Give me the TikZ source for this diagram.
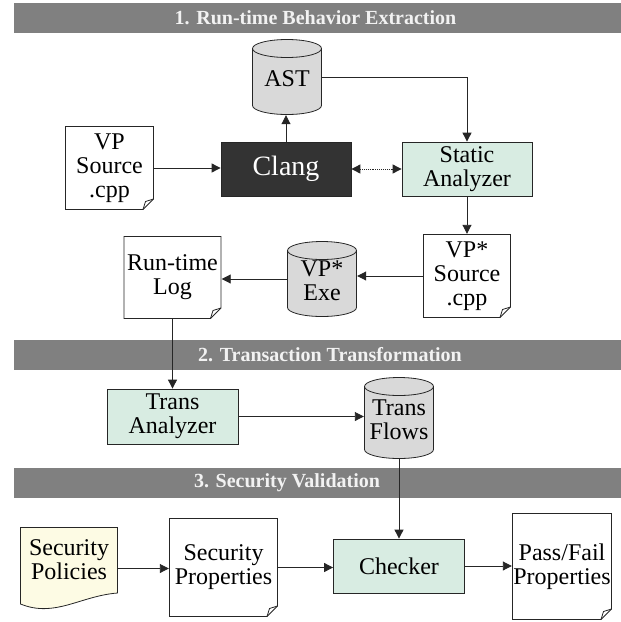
\documentclass[tikz,border=0pt]{standalone}
\usepackage{fontspec}
\setmainfont{Liberation Serif}
\usepackage{tikz}
\usetikzlibrary{arrows.meta}
\definecolor{bannergray}{HTML}{808080}
\definecolor{bannertext}{HTML}{F2F2F2}
\definecolor{procgreen}{HTML}{D8ECE2}
\definecolor{clangdark}{HTML}{333333}
\definecolor{dbgray}{HTML}{D9D9D9}
\definecolor{policyyellow}{HTML}{FDFBE4}
\definecolor{linegray}{HTML}{262626}
\newcommand{\nodefont}{\fontsize{24}{24}\selectfont}
\newcommand{\shiftlabel}[2][-5pt]{\raisebox{#1}[\height][\depth]{%
  \begin{tabular}{@{}c@{}}#2\end{tabular}}}
\tikzset{flowline/.style = {draw=linegray, line width=0.9pt,
                            -{Triangle[length=9pt,width=9pt]}},
         outline/.style = {draw=linegray, line width=0.8pt},
         banner/.style = {fill=bannergray, minimum width=607pt,
                          minimum height=30pt, inner sep=0pt},
         bannerlabel/.style = {text=bannertext, inner sep=0pt,
                               font=\bfseries\fontsize{20}{20}\selectfont},
         proc/.style = {outline, fill=procgreen, minimum width=130pt,
                        minimum height=54pt, align=center, font=\nodefont,
                        inner sep=1pt},
         docnote/.style = {rectangle, align=center, font=\nodefont, inner sep=1pt,
           path picture={
             \draw [outline, fill=white]
               ([shift={(.5pt,-.5pt)}]path picture bounding box.north west)
               -- ([shift={(-.5pt,-.5pt)}]path picture bounding box.north east)
               -- ([shift={(-.5pt,11pt)}]path picture bounding box.south east)
               -- ([shift={(-11pt,.5pt)}]path picture bounding box.south east)
               -- ([shift={(.5pt,.5pt)}]path picture bounding box.south west) -- cycle;
             \draw [outline]
               ([shift={(-11pt,.5pt)}]path picture bounding box.south east)
               -- ([shift={(-8.5pt,8.5pt)}]path picture bounding box.south east)
               -- ([shift={(-.5pt,11pt)}]path picture bounding box.south east);
           }},
         policy/.style = {rectangle, align=center, font=\nodefont, inner sep=1pt,
           path picture={
             \draw [outline, fill=policyyellow]
               ([shift={(.5pt,-.5pt)}]path picture bounding box.north west)
               -- ([shift={(-.5pt,-.5pt)}]path picture bounding box.north east)
               -- ([shift={(-.5pt,17pt)}]path picture bounding box.south east)
               .. controls ([shift={(-38pt,14pt)}]path picture bounding box.south east)
               and ([shift={(35pt,-8pt)}]path picture bounding box.south west)
               .. ([shift={(.5pt,6pt)}]path picture bounding box.south west) -- cycle;
           }},
         dbase/.style = {rectangle, minimum width=70pt, align=center,
                         font=\nodefont, inner sep=1pt,
           path picture={
             \draw [outline, fill=dbgray]
               ([shift={(.5pt,-9.5pt)}]path picture bounding box.north west)
               -- ([shift={(.5pt,9.5pt)}]path picture bounding box.south west)
               arc [start angle=180, end angle=360, x radius=34.5pt, y radius=9pt]
               -- ([shift={(-.5pt,-9.5pt)}]path picture bounding box.north east)
               arc [start angle=0, end angle=180, x radius=34.5pt, y radius=9pt]
               -- cycle;
             \draw [outline]
               ([shift={(.5pt,-9.5pt)}]path picture bounding box.north west)
               arc [start angle=180, end angle=360, x radius=34.5pt, y radius=9pt];
           }}}

\begin{document}
\begin{tikzpicture}[x=1pt, y=-1pt]
  \useasboundingbox (0, 0) rectangle (621, 622);

  % stage banners
  \node [banner] (stage1) at (317.5, 18) {};
  \node [bannerlabel] (stage1text) at (315.5, 18) {1. Run-time Behavior Extraction};
  \node [banner] (stage2) at (317.5, 355) {};
  \node [bannerlabel] (stage2text) at (330, 355) {2. Transaction Transformation};
  \node [banner] (stage3) at (317.5, 483) {};
  \node [bannerlabel] (stage3text) at (287, 483) {3. Security Validation};

  % 1. run-time behavior extraction
  \node [dbase, minimum height=76pt] (ast) at (287, 77) {\shiftlabel{AST}};
  \node [docnote, minimum width=89pt, minimum height=84pt] (vpsrc) at (109.5, 168)
        {VP\\Source\\.cpp};
  \node [proc, fill=clangdark, text=white, font=\fontsize{28}{28}\selectfont]
        (clang) at (286, 169) {Clang};
  \node [proc] (static) at (467, 169) {Static\\Analyzer};
  \node [docnote, minimum width=88pt, minimum height=84pt] (vpstarsrc) at (467, 276)
        {VP*\\Source\\.cpp};
  \node [dbase, minimum height=76pt] (vpexe) at (322, 279) {\shiftlabel{VP*\\Exe}};
  \node [docnote, minimum width=98pt, minimum height=83pt] (runlog) at (172.5, 277.5)
        {Run-time\\Log};

  \draw [flowline] (vpsrc.east) -- (vpsrc.east -| clang.west);
  \draw [flowline] (clang.north) -- (clang.north |- ast.south);
  \draw [flowline] (ast.east) -| (static.north);
  \draw [flowline, densely dotted, {Triangle[length=9pt,width=9pt]}-{Triangle[length=9pt,width=9pt]}]
        (clang.east) -- (static.west);
  \draw [flowline] (static.south) -- (static.south |- vpstarsrc.north);
  \draw [flowline] (vpstarsrc.west) -- (vpstarsrc.west -| vpexe.east);
  \draw [flowline] (vpexe.west) -- (vpexe.west -| runlog.east);

  % 2. transaction transformation
  \node [proc, minimum width=131pt, minimum height=55pt] (transan) at (172.5, 416.5)
        {Trans\\Analyzer};
  \node [dbase, minimum height=82pt] (transflows) at (399, 418)
        {\shiftlabel{Trans\\Flows}};

  \draw [flowline] (runlog.south) -- (runlog.south |- transan.north);
  \draw [flowline] (transan.east) -- (transan.east -| transflows.west);

  % 3. security validation
  \node [policy, minimum width=98pt, minimum height=83pt] (secpol) at (69, 568.5)
        {\shiftlabel[6pt]{Security\\Policies}};
  \node [docnote, minimum width=109pt, minimum height=99pt] (secprop) at (223.5, 567.5)
        {Security\\Properties};
  \node [proc, minimum width=131pt] (checker) at (399, 566) {Checker};
  \node [docnote, minimum width=100pt, minimum height=107pt] (passfail) at (562, 566.5)
        {Pass/Fail\\Properties};

  \draw [flowline] (transflows.south) -- (transflows.south |- checker.north);
  \draw [flowline] (secpol.east) -- (secpol.east -| secprop.west);
  \draw [flowline] (secprop.east) -- (secprop.east -| checker.west);
  \draw [flowline] (checker.east) -- (checker.east -| passfail.west);
\end{tikzpicture}
\end{document}
